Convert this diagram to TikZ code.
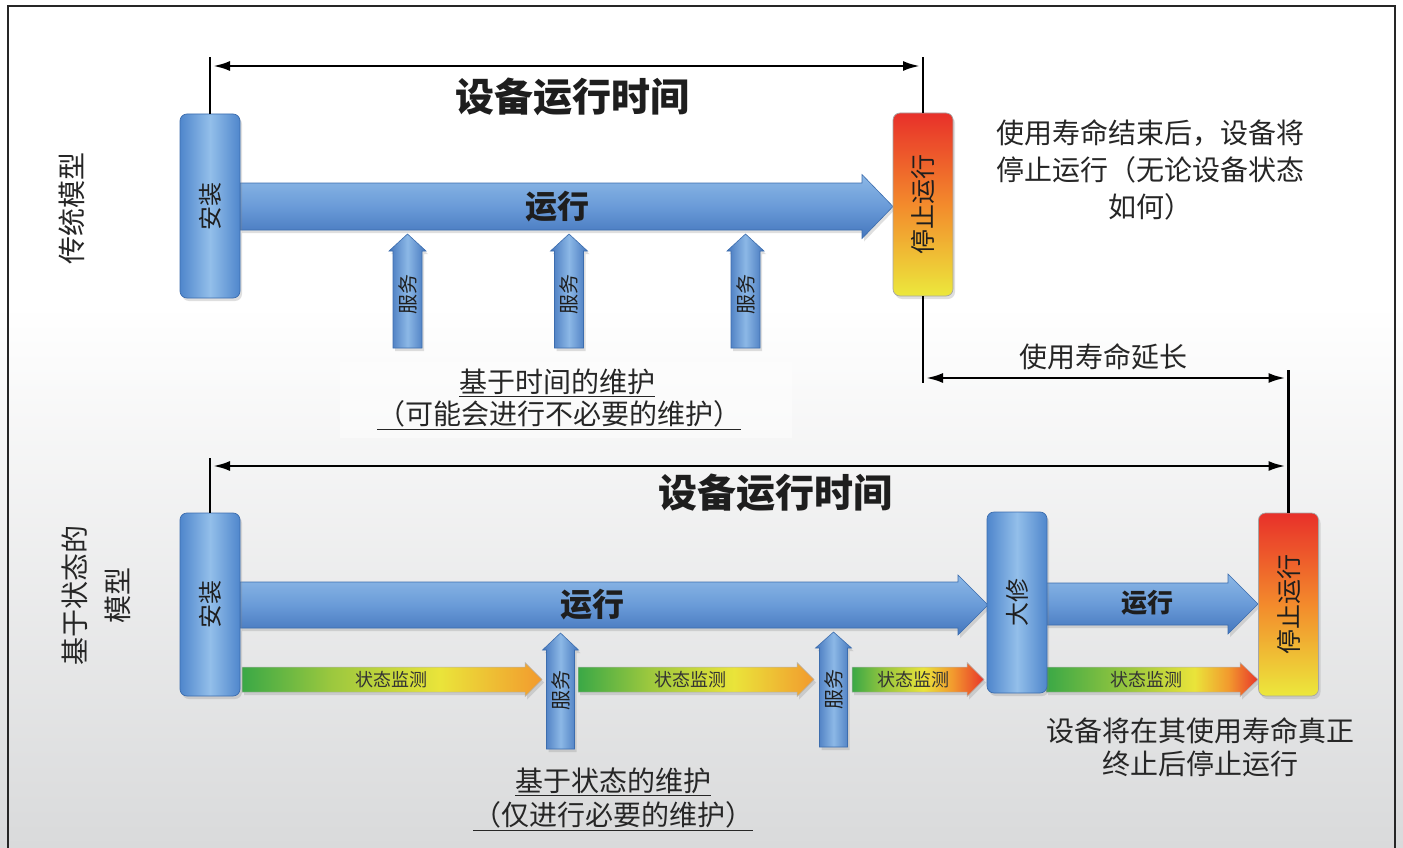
\documentclass[tikz,border=0pt]{standalone}
\usepackage{fontspec}
\setmainfont{Noto Sans CJK SC}
\usetikzlibrary{arrows.meta,shadows}
\definecolor{bgB}{HTML}{D9DADB}
\definecolor{bxM}{HTML}{93BFEA}
\definecolor{bxE}{HTML}{4F86CC}
\definecolor{bxLine}{HTML}{3C6DAE}
\definecolor{arL}{HTML}{8CB8E6}
\definecolor{arM}{HTML}{6A9BD8}
\definecolor{arD}{HTML}{4476BD}
\definecolor{stR}{HTML}{E8302A}
\definecolor{stO}{HTML}{F38A2C}
\definecolor{stY}{HTML}{ECE83C}
\definecolor{mG}{HTML}{3AA846}
\definecolor{mGY}{HTML}{9CC83E}
\definecolor{mY}{HTML}{EAE43A}
\definecolor{mO}{HTML}{F29A2E}
\definecolor{mR}{HTML}{E8352A}
\definecolor{txt}{HTML}{1E1E1E}
\pgfdeclareverticalshading{bgsh}{100bp}{color(0bp)=(bgB); color(25bp)=(bgB); color(57bp)=(white); color(100bp)=(white)}
\pgfdeclarehorizontalshading{monA}{100bp}{color(0bp)=(mG); color(25bp)=(mG); color(40bp)=(mGY); color(58bp)=(mY); color(75bp)=(mO); color(100bp)=(mO)}
\pgfdeclarehorizontalshading{monB}{100bp}{color(0bp)=(mG); color(25bp)=(mG); color(38bp)=(mGY); color(52bp)=(mY); color(63bp)=(mO); color(75bp)=(mR); color(100bp)=(mR)}
\pgfdeclarehorizontalshading{monC}{100bp}{color(0bp)=(mG); color(25bp)=(mG); color(45bp)=(mGY); color(60bp)=(mY); color(68bp)=(mO); color(75bp)=(mR); color(100bp)=(mR)}
\newcommand\HArrow[7]{\path[#1] (#2,#5-#6) -- (#3,#5-#6) -- (#3,#5-#7) -- (#4,#5) -- (#3,#5+#7) -- (#3,#5+#6) -- (#2,#5+#6) -- cycle;}
\newcommand\VArrow[7]{\path[#1] (#2-#6,#5) -- (#2-#6,#4) -- (#2-#7,#4) -- (#2,#3) -- (#2+#7,#4) -- (#2+#6,#4) -- (#2+#6,#5) -- cycle;}
\begin{document}
\begin{tikzpicture}[x=1pt,y=-1pt,
  shad/.style={drop shadow={opacity=0.25,shadow xshift=2pt,shadow yshift=-3pt}},
  bluebox/.style={shad,rounded corners=7pt,draw=bxLine,line width=0.7pt,left color=bxE,right color=bxE,middle color=bxM,minimum width=60pt,inner sep=0pt,text=txt,font=\fontsize{24}{28}\selectfont},
  stopbox/.style={shad,rounded corners=7pt,draw=black!35,line width=0.7pt,top color=stR,bottom color=stY,middle color=stO,minimum width=60pt,inner sep=0pt,text=txt,font=\fontsize{25}{30}\selectfont},
  runarrow/.style={shad,draw=bxLine,line width=0.6pt,top color=arL,bottom color=arD,middle color=arM},
  svcarrow/.style={shad,draw=bxLine,line width=0.6pt,left color=arD,right color=arD,middle color=arL},
  monarrow/.style={shad,draw=black!30,line width=0.5pt,shading=#1},
  dim/.style={line width=2.6pt,{Latex[length=17pt,width=10pt]}-{Latex[length=17pt,width=10pt]},shorten <=3pt,shorten >=3pt},
  tick/.style={line width=2.6pt},
  title/.style={font=\fontsize{39}{44}\selectfont\bfseries,text=txt},
  runlbl/.style={font=\fontsize{32}{36}\selectfont\bfseries,text=txt},
  svclbl/.style={font=\fontsize{20}{24}\selectfont,text=txt,rotate=90,inner sep=0pt},
  monlbl/.style={font=\fontsize{18}{20}\selectfont,text=black!80,inner sep=0pt},
  big/.style={font=\fontsize{28}{37}\selectfont,text=black!85,align=center},
  ]
\useasboundingbox (0,0) rectangle (1403,848);
\shade[shading=bgsh] (0,0) rectangle (1403,848);
\fill[white,opacity=0.45] (340,362) rectangle (792,438);
\draw[line width=1.4pt,black!85] (8,850) -- (8,6) -- (1395,6) -- (1395,850);

% ---------- top (traditional) ----------
\HArrow{runarrow}{240}{862}{893}{206.5}{23.5}{32}
\node[runlbl] (run1) at (557,207) {运行};
\node[bluebox,minimum height=184pt] (inst1) at (210,206) {\rotatebox{90}{安装}};
\node[stopbox,minimum height=183pt] (stop1) at (923,204.5) {\rotatebox{90}{停止运行}};

\VArrow{svcarrow}{407.5}{234}{251}{348}{14.5}{18.5}
\VArrow{svcarrow}{569}{234}{251}{348}{14.5}{18.5}
\VArrow{svcarrow}{745.5}{234}{251}{348}{14.5}{18.5}
\node[svclbl] (s1) at (407.5,294) {服务};
\node[svclbl] (s2) at (569,294) {服务};
\node[svclbl] (s3) at (745.5,294) {服务};

\coordinate (t1) at (210,57);
\coordinate (t2) at (923,57);
\coordinate (d1a) at (210,66);
\coordinate (d1b) at (923,66);
\draw[tick] (inst1.north) -- (t1);
\draw[tick] (stop1.north) -- (t2);
\draw[dim] (d1a) -- (d1b);
\node[title] (tt1) at (572,97) {设备运行时间};

\node[big] (rtxt) at (1150,170) {使用寿命结束后，设备将\\停止运行（无论设备状态\\如何）};
\node[big] (ltxt1) at (72,208) [rotate=90] {传统模型};
\node[big] (tb1) at (557,383) {\underline{基于时间的维护}};
\node[big] (tb2) at (559,415) {\underline{（可能会进行不必要的维护）}};

% ---------- extension ----------
\coordinate (e1) at (923,383);
\coordinate (d3a) at (923,378);
\coordinate (d3b) at (1288.5,378);
\coordinate (t3) at (1288.5,370);
\draw[tick] (stop1.south) -- (e1);
\draw[dim] (d3a) -- (d3b);
\node[big] (ext) at (1103,357) {使用寿命延长};

% ---------- bottom (condition based) ----------
\HArrow{runarrow}{240}{958}{988}{605}{23}{30}
\HArrow{runarrow}{1046}{1228}{1258}{604}{21}{30}
\node[runlbl] (run2) at (592,605) {运行};
\node[runlbl,font=\fontsize{26}{30}\selectfont\bfseries] (run3) at (1147,603) {运行};

\HArrow{monarrow=monA}{242}{525}{542}{679.5}{12.5}{17}
\HArrow{monarrow=monA}{578}{797}{814}{679.5}{12.5}{17}
\HArrow{monarrow=monB}{852}{967}{984}{679.5}{12.5}{17}
\HArrow{monarrow=monC}{1046}{1240}{1258}{679.5}{12.5}{17}
\node[monlbl] (m1) at (391,680) {状态监测};
\node[monlbl] (m2) at (690,680) {状态监测};
\node[monlbl] (m3) at (913,680) {状态监测};
\node[monlbl] (m4) at (1146,680) {状态监测};

\node[bluebox,minimum height=183pt] (inst2) at (210,604.5) {\rotatebox{90}{安装}};
\node[bluebox,minimum height=181pt] (over) at (1017,602.5) {\rotatebox{90}{大修}};
\node[stopbox,minimum height=183pt] (stop2) at (1288.5,604.5) {\rotatebox{90}{停止运行}};

\VArrow{svcarrow}{560.5}{633}{650}{749}{14}{18}
\VArrow{svcarrow}{833.5}{632}{648}{747}{14}{18}
\node[svclbl] (s4) at (560.5,690) {服务};
\node[svclbl] (s5) at (833.5,689) {服务};

\coordinate (t4) at (210,458);
\coordinate (d2a) at (210,466);
\coordinate (d2b) at (1288.5,466);
\draw[tick] (inst2.north) -- (t4);
\draw[tick] (stop2.north) -- (t3);
\draw[dim] (d2a) -- (d2b);
\node[title] (tt2) at (775,493) {设备运行时间};

\node[big,rotate=90,font=\fontsize{28}{43}\selectfont] (ltxt2) at (96,595) {基于状态的\\模型};
\node[big] (bb1) at (613,782) {\underline{基于状态的维护}};
\node[big] (bb2) at (613,816) {\underline{（仅进行必要的维护）}};
\node[big,font=\fontsize{28}{33}\selectfont] (btxt) at (1200,747) {设备将在其使用寿命真正\\终止后停止运行};
\end{tikzpicture}
\end{document}
